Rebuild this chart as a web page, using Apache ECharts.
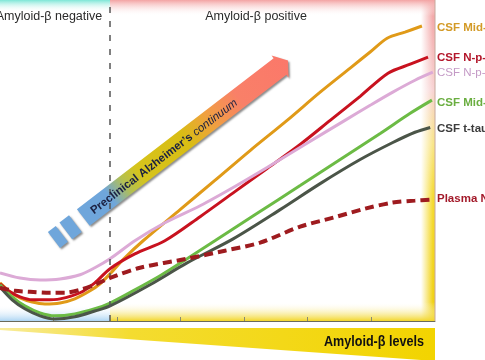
<!DOCTYPE html>
<html><head><meta charset="utf-8">
<script src="https://cdn.jsdelivr.net/npm/echarts@6/dist/echarts.min.js"></script>
<style>html,body{margin:0;padding:0;background:#fff}#c{width:485px;height:360px}</style>
</head><body><div id="c"></div>
<script>
// ---- data (x: amyloid-beta level 0-100, y: relative biomarker level 0-100) ----
const seriesNames = ['CSF Mid-p-tau181', 'CSF N-p-tau217', 'CSF N-p-tau181', 'CSF Mid-p-tau231', 'CSF t-tau', 'Plasma N-p-tau181'];
const csfMidA = [[0,11.9],[2.3,9.1],[4.6,7.2],[7.4,5.9],[10.3,5.3],[13.8,5.6],[17.2,6.9],[20.7,9.4],[23,11.6],[25.3,14.7],[28.7,19.7],[32.9,25],[41.4,34.7],[49.4,43.8],[57.5,53.1],[66,62.5],[73.6,71.3],[80.5,78.8],[85.1,83.8],[89,88.1],[93.1,90],[97,91.9]];
const csfNA   = [[0,11.6],[2.3,9.1],[4.6,7.5],[7.4,6.6],[10.3,6.6],[13.8,6.9],[18.4,8.8],[21.8,11.9],[25.3,16.3],[31,20.9],[37.9,25],[46,32.5],[54,40.3],[61.4,47.5],[69,55],[75.9,62.5],[82.8,70],[89.2,77.2],[94.3,80],[98.4,82.2]];
const csfNB   = [[0,15],[4.6,13.4],[9.2,12.8],[13.8,13.1],[18.4,14.4],[21.8,16.6],[25.3,19.4],[31,25],[37.9,30.6],[46,35.9],[54,41.9],[61.4,47.8],[70.1,55],[79.3,62.5],[85.1,67.2],[90.3,71.3],[95.4,75],[99.5,77.5]];
const csfMidB = [[0,11.3],[2.8,7.5],[5.7,4.7],[9.2,2.5],[12.6,1.6],[17.2,2.2],[21.8,3.8],[25.3,5.6],[31,9.7],[36.8,14.1],[43,19.4],[49.4,25],[58.6,33.1],[69,42.2],[78.2,50.3],[87.4,58.4],[94.3,64.7],[99.3,68.8]];
const csfTtau = [[0,10.6],[2.8,6.6],[5.7,3.8],[9.2,1.6],[12.6,0.6],[17.2,1.3],[21.8,3.1],[25.3,4.7],[34.5,11.3],[43,18.1],[53.6,25.6],[64.4,34.7],[73.6,42.8],[82.8,50.3],[90.3,55.6],[95.4,58.8],[98.9,60.3]];
const plasmaN = [[0,10.3],[3.4,9.4],[6.9,9.1],[11.5,8.8],[14.9,8.8],[18.4,9.7],[21.8,11.3],[25.3,13.4],[32.2,16.6],[43,19.4],[51.7,21.9],[59.8,24.4],[69,29.4],[76.6,32.2],[83.9,35],[90.3,36.9],[95.4,37.5],[98.9,37.8]];
const amyloidThreshold = 25.3;
const tickPositions = [12.2, 26.9, 41.4, 56.1, 70.7, 85.4];
const regionLabels = ['Amyloid-\u03b2 negative', 'Amyloid-\u03b2 positive'];
const axisTitle = 'Amyloid-\u03b2 levels';
const arrowTitleBold = 'Preclinical Alzheimer\u2019s';
const arrowTitleItalic = 'continuum';

const lineColors = ['#e09a18', '#c8121f', '#dcaad6', '#6cbb45', '#4b5548', '#9e1b1f'];
const labelColors = ['#d39a26', '#b3162a', '#c49ac6', '#6aae40', '#3c3c3c', '#a31a2a'];
const labelWeights = ['bold', 'bold', 'normal', 'bold', 'bold', 'bold'];
const labelDy = [2, 1, 1, 3, 1, -1];
const dataSets = [csfMidA, csfNA, csfNB, csfMidB, csfTtau, plasmaN];

const SANS = '"Liberation Sans", Arial, sans-serif';

const PW = 435, PH = 321;
const LABEL_COLUMN = 437, LABEL_DIST = 5;

// ---- decorative arrow geometry ----
const ang = 37.5 * Math.PI / 180;
const C0 = [83.3, 217.5];
const dx = Math.cos(ang), dy = -Math.sin(ang), nx = Math.sin(ang), ny = Math.cos(ang);
function pt(t, s) { return [C0[0] + t * dx + s * nx, C0[1] + t * dy + s * ny]; }
const shadow = {shadowColor: 'rgba(0,0,0,0.45)', shadowBlur: 2, shadowOffsetX: 1.5, shadowOffsetY: 1.5};
const gStart = pt(0, 0), gEnd = pt(258, 0);
const arrowFill = {type: 'linear', global: true, x: gStart[0], y: gStart[1], x2: gEnd[0], y2: gEnd[1],
  colorStops: [{offset: 0, color: '#6fa6db'}, {offset: 0.13, color: '#6fa6db'}, {offset: 0.21, color: '#b4c050'},
    {offset: 0.28, color: '#d6c41c'}, {offset: 0.5, color: '#d9bd14'}, {offset: 0.62, color: '#f0a040'},
    {offset: 0.76, color: '#f98068'}, {offset: 1, color: '#fb786a'}]};
const textCenter = pt(101, 1);

const vGrad = (c0, c1) => ({type: 'linear', x: 0, y: 0, x2: 0, y2: 1, colorStops: [{offset: 0, color: c0}, {offset: 1, color: c1}]});
const hGrad = (stops) => ({type: 'linear', x: 0, y: 0, x2: 1, y2: 0, colorStops: stops});

const graphics = [
  {type: 'rect', z: -10, shape: {x: 0, y: 0, width: PW, height: PH}, style: {fill: '#fff'}},
  // right edge strip (pink -> yellow), faded horizontally
  {type: 'rect', z: -9, shape: {x: 421, y: 0, width: 14, height: PH}, style: {fill: {type: 'linear', x: 0, y: 0, x2: 0, y2: 1,
    colorStops: [{offset: 0, color: '#f2a0a0'}, {offset: 0.28, color: '#f8d4d4'}, {offset: 0.45, color: '#f9e68a'},
      {offset: 0.62, color: '#f5da30'}, {offset: 1, color: '#f0d010'}]}}},
  {type: 'rect', z: -8, shape: {x: 421, y: 0, width: 14, height: PH}, style: {fill: hGrad([{offset: 0, color: '#fff'}, {offset: 0.85, color: 'rgba(255,255,255,0)'}])}},
  // top / bottom bands
  {type: 'rect', z: -7, shape: {x: 0, y: 0, width: 110, height: 12}, style: {fill: vGrad('#7de6d6', 'rgba(255,255,255,0)')}},
  {type: 'rect', z: -7, shape: {x: 0, y: 305, width: 110, height: 16}, style: {fill: vGrad('rgba(255,255,255,0)', '#add5f3')}},
  {type: 'rect', z: -7, shape: {x: 110, y: 0, width: PW - 110, height: 16}, style: {fill: vGrad('#f3a3a3', 'rgba(255,255,255,0)')}},
  {type: 'rect', z: -7, shape: {x: 110, y: 302, width: PW - 110, height: 19}, style: {fill: vGrad('rgba(255,255,255,0)', '#f2d62a')}},
  {type: 'line', z: -6, shape: {x1: 435, y1: 0, x2: 435, y2: PH}, style: {stroke: '#c6a89c', lineWidth: 1}},
  // region titles
  {type: 'text', x: 49, y: 17, style: {text: regionLabels[0], fill: '#2a2a2a', font: '12.5px ' + SANS, align: 'center', verticalAlign: 'middle'}},
  {type: 'text', x: 256, y: 17, style: {text: regionLabels[1], fill: '#2a2a2a', font: '12.5px ' + SANS, align: 'center', verticalAlign: 'middle'}},
  // bottom wedge
  {type: 'polygon', shape: {points: [[0, 328], [PW, 328], [PW, 361], [0, 330]]},
    style: {fill: hGrad([{offset: 0, color: '#f8ec9c'}, {offset: 0.3, color: '#f4dc30'}, {offset: 1, color: '#f2d400'}])}},
  {type: 'text', x: 424, y: 342, scaleX: 0.84, style: {text: axisTitle, fill: '#111', font: 'bold 15px ' + SANS, align: 'right', verticalAlign: 'middle'}},
  // arrow
  {type: 'polygon', z: 5, shape: {points: [pt(-10, -10.5), pt(-10, 10.5), pt(-22, 10.5), pt(-22, -10.5)]}, style: Object.assign({fill: '#6fa6db'}, shadow)},
  {type: 'polygon', z: 5, shape: {points: [pt(-27, -10), pt(-27, 10), pt(-37, 10), pt(-37, -10)]}, style: Object.assign({fill: '#6fa6db'}, shadow)},
  {type: 'polygon', z: 5, shape: {points: [pt(0, -10.5), pt(248, -10.5), pt(248, -14), pt(258, 0), pt(248, 14), pt(248, 10.5), pt(0, 10.5)]},
    style: Object.assign({fill: arrowFill}, shadow)},
  {type: 'text', z: 6, x: textCenter[0], y: textCenter[1], rotation: ang,
    style: {text: '{b|' + arrowTitleBold + '} {i|' + arrowTitleItalic + '}', align: 'center', verticalAlign: 'middle',
      rich: {b: {font: 'bold 11.5px ' + SANS, fill: '#1b2142'}, i: {font: 'italic 11.5px ' + SANS, fill: '#1b2142'}}}}
];

const series = dataSets.map((d, i) => {
  const dashed = i === 5;
  const lastXpx = d[d.length - 1][0] / 100 * PW;
  const s = {
    name: seriesNames[i], type: 'line', data: d, showSymbol: false, smooth: 0.3,
    z: 3 + (dashed ? 2 : 0),
    lineStyle: {color: lineColors[i], width: dashed ? 4 : 3, type: dashed ? [9, 5] : 'solid', cap: 'butt'},
    endLabel: {show: true, formatter: '{a}', color: labelColors[i], fontSize: 11.5, fontWeight: labelWeights[i], fontFamily: SANS,
      distance: LABEL_DIST, offset: [LABEL_COLUMN - lastXpx - LABEL_DIST, labelDy[i]]},
    emphasis: {disabled: true}
  };
  if (i === 0) {
    s.markLine = {silent: true, symbol: ['none', 'none'], label: {show: false}, animation: false,
      lineStyle: {color: '#555', width: 1.5, type: [6, 8]}, data: [{xAxis: amyloidThreshold}]};
  }
  return s;
});

const chart = echarts.init(document.getElementById('c'), null, {renderer: 'canvas'});
chart.setOption({
  animation: false,
  backgroundColor: '#fff',
  grid: {left: 0, top: 0, width: PW, height: PH, containLabel: false},
  xAxis: {type: 'value', min: 0, max: 100, splitLine: {show: false}, axisLabel: {show: false},
    axisLine: {show: true, lineStyle: {color: '#6a6a5a', width: 1}},
    axisTick: {show: true, inside: true, length: 4, customValues: tickPositions, lineStyle: {color: '#8a8a70'}}},
  yAxis: {type: 'value', min: 0, max: 100, show: false},
  graphic: graphics,
  series: series
});
</script></body></html>
